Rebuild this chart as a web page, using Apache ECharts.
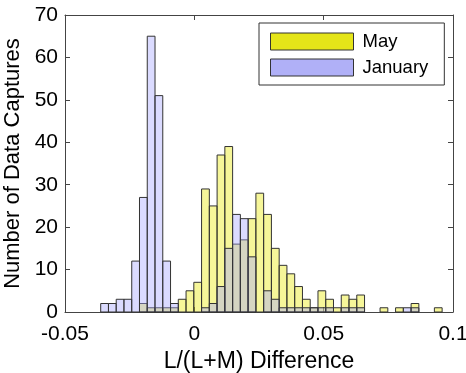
<!DOCTYPE html>
<html>
<head>
<meta charset="utf-8">
<script src="https://cdn.jsdelivr.net/npm/echarts@6/dist/echarts.min.js"></script>
<style>html,body{margin:0;padding:0;background:#fff;}#chart{width:466px;height:373px;}</style>
</head>
<body>
<div id="chart"></div>
<script>
// Histogram bins (left edge of first bin and bin width, in L/(L+M) units)
var binStart = -0.0362;
var binWidth = 0.003;
// Counts per bin (44 bins)
var mayCounts = [0,0,0,0,0,2,1,1,1,1, 3,5,7,29,25,37,39,16,17,22, 28,23,15,11,9,6,3,1,5,3, 1,4,3,4,0,0,1,0,1,0, 2,0,0,1];
var janCounts = [2,2,3,3,12,27,65,51,12,2, 0,0,0,1,2,6,15,23,22,13, 0,5,3,1,1,1,1,1,1,1, 0,1,1,1,0,0,0,0,0,1, 1,0,0,0];
var xTicks = [-0.05, 0, 0.05, 0.1];
var yTicks = [0, 10, 20, 30, 40, 50, 60, 70];

var FONT = "'Liberation Sans', Arial, Helvetica, sans-serif";

function toBins(counts) {
  var out = [];
  for (var i = 0; i < counts.length; i++) {
    if (counts[i] > 0) {
      var l = binStart + i * binWidth;
      out.push([l, l + binWidth, counts[i]]);
    }
  }
  return out;
}

function makeRender(fill) {
  return function (params, api) {
    var p0 = api.coord([api.value(0), api.value(2)]);
    var p1 = api.coord([api.value(1), 0]);
    return {
      type: 'rect',
      shape: { x: p0[0], y: p0[1], width: p1[0] - p0[0], height: p1[1] - p0[1] },
      style: { fill: fill, stroke: '#333', lineWidth: 1 }
    };
  };
}

var mayFill = 'rgba(232,232,0,0.40)';
var janFill = 'rgba(165,165,255,0.40)';

var chart = echarts.init(document.getElementById('chart'), null, { renderer: 'canvas' });
function axisLine() { return { show: true, onZero: false, lineStyle: { color: '#444', width: 1 } }; }
chart.setOption({
  animation: false,
  backgroundColor: '#fff',
  grid: { left: 65, right: 13, top: 15, bottom: 61, containLabel: false, outerBoundsMode: 'none' },
  xAxis: [{
    type: 'value', min: xTicks[0], max: xTicks[xTicks.length - 1], interval: 0.05,
    position: 'bottom',
    axisLine: axisLine(),
    axisTick: { show: true, inside: true, length: 5, lineStyle: { color: '#444' } },
    axisLabel: { color: '#000', fontSize: 21, fontFamily: FONT, margin: 12,
      formatter: function (v) { return String(Math.round(v * 1000) / 1000); } },
    splitLine: { show: false },
    name: 'L/(L+M) Difference', nameLocation: 'middle', nameGap: 31,
    nameTextStyle: { color: '#000', fontSize: 23, fontFamily: FONT }
  }, {
    type: 'value', min: xTicks[0], max: xTicks[xTicks.length - 1], interval: 0.05,
    position: 'top',
    axisLine: axisLine(),
    axisTick: { show: true, inside: true, length: 5, lineStyle: { color: '#444' } },
    axisLabel: { show: false },
    splitLine: { show: false }
  }],
  yAxis: [{
    type: 'value', min: yTicks[0], max: yTicks[yTicks.length - 1], interval: 10,
    position: 'left',
    axisLine: axisLine(),
    axisTick: { show: true, inside: true, length: 5, lineStyle: { color: '#444' } },
    axisLabel: { color: '#000', fontSize: 21, fontFamily: FONT, margin: 7 },
    splitLine: { show: false },
    name: 'Number of Data Captures', nameLocation: 'middle', nameGap: 33,
    nameTextStyle: { color: '#000', fontSize: 22, fontFamily: FONT }
  }, {
    type: 'value', min: yTicks[0], max: yTicks[yTicks.length - 1], interval: 10,
    position: 'right',
    axisLine: axisLine(),
    axisTick: { show: true, inside: true, length: 5, lineStyle: { color: '#444' } },
    axisLabel: { show: false },
    splitLine: { show: false }
  }],
  legend: {
    left: 259, top: 23, orient: 'vertical', icon: 'rect',
    itemWidth: 83, itemHeight: 17, itemGap: 7,
    padding: [9, 16, 8, 11],
    borderColor: '#333', borderWidth: 1, backgroundColor: '#fff',
    selectedMode: false,
    textStyle: { fontSize: 18.5, color: '#000', fontFamily: FONT, padding: [0, 0, 0, 4] },
    data: [
      { name: 'May', itemStyle: { color: '#e5e519', borderColor: '#333', borderWidth: 1 } },
      { name: 'January', itemStyle: { color: '#b0b0f7', borderColor: '#333', borderWidth: 1 } }
    ]
  },
  series: [{
    name: 'May', type: 'custom', xAxisIndex: 0, yAxisIndex: 0,
    itemStyle: { color: '#e5e519' },
    renderItem: makeRender(mayFill),
    encode: { x: [0, 1], y: 2 },
    data: toBins(mayCounts)
  }, {
    name: 'January', type: 'custom', xAxisIndex: 0, yAxisIndex: 0,
    itemStyle: { color: '#b0b0f7' },
    renderItem: makeRender(janFill),
    encode: { x: [0, 1], y: 2 },
    data: toBins(janCounts)
  }]
});
</script>
</body>
</html>
